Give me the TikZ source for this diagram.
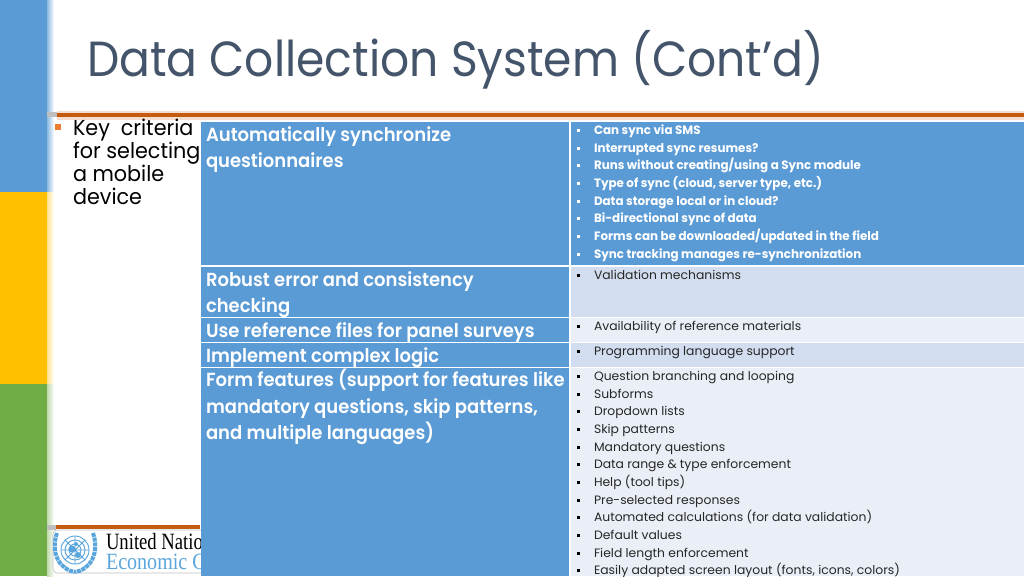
\documentclass[tikz,border=0pt]{standalone}
\usepackage{fontspec}
\setmainfont{Poppins}
\newfontfamily\titlef[FakeStretch=0.925]{Poppins}
\newfontfamily\leadf[FakeStretch=0.96]{Poppins}
\newfontfamily\headf[FakeStretch=0.95,BoldFont={Poppins SemiBold}]{Poppins}
\newfontfamily\smwf[FakeStretch=0.98]{Poppins}
\newfontfamily\smbf[FakeStretch=1.02]{Poppins}
\newfontfamily\serifl[FakeStretch=0.8]{Liberation Serif}
\newfontfamily\seriflb[FakeStretch=0.86]{Liberation Serif}
\definecolor{barblue}{HTML}{5B9BD5}
\definecolor{baryellow}{HTML}{FFC000}
\definecolor{bargreen}{HTML}{70AD47}
\definecolor{titlecol}{HTML}{44546A}
\definecolor{rulecol}{HTML}{C55A11}
\definecolor{bulcol}{HTML}{ED7D31}
\definecolor{rowdark}{HTML}{D2DEEF}
\definecolor{rowlight}{HTML}{EAEFF7}
\definecolor{unblue}{HTML}{5AA6DC}
\tikzset{
  x=0.75pt,y=-0.75pt,
  txt/.style={anchor=base west,inner sep=0pt,outer sep=0pt},
  head/.style={txt,text=white,font=\headf\fontsize{14.2}{16}\selectfont\bfseries},
  smw/.style={txt,text=white,font=\smwf\fontsize{9.1}{11}\selectfont\bfseries},
  smb/.style={txt,text=black!85,font=\smbf\fontsize{9.1}{11}\selectfont},
  lead/.style={txt,text=black,font=\leadf\fontsize{16.2}{18}\selectfont},
  cell/.style={anchor=north west,inner sep=0pt,outer sep=0pt,draw=none},
}
\newcommand{\cellbox}[6]{\node[cell,fill=#6,minimum width=#4*0.75pt,minimum height=#5*0.75pt] (#1) at (#2,#3) {};}
\newcommand{\bulw}[2]{\fill[white] (576.5,#1-5.5) rectangle +(3.2,3.2); \node[smw] (w#2) at (594,#1)}
\newcommand{\bulb}[2]{\fill[black] (576.5,#1-5.5) rectangle +(3.2,3.2); \node[smb] (b#2) at (594,#1)}
\begin{document}
\begin{tikzpicture}
\useasboundingbox (0,0) rectangle (1024,576);
\fill[white] (0,0) rectangle (1024,576);
% side bars
\fill[barblue] (0,0) rectangle (47,192);
\fill[baryellow] (0,192) rectangle (47,384);
\fill[bargreen] (0,384) rectangle (47,576);
\shade[left color=barblue!70,right color=white] (47,0) rectangle (54,192);
\shade[left color=baryellow!45,right color=white] (47,192) rectangle (54,384);
\shade[left color=bargreen!45,right color=white] (47,384) rectangle (54,576);
% title and rules
\node[txt,text=titlecol,font=\titlef\fontsize{37}{40}\selectfont] (title) at (87,76) {Data Collection System (Cont’d)};
\fill[black!25] (47,112) rectangle (57,117);
\fill[rulecol!20] (57,111) rectangle (1024,120);
\fill[rulecol] (57,113) rectangle (1024,116.5);
\fill[black!25] (47,525) rectangle (56,530);
\fill[rulecol] (56,525) rectangle (200,529);
% logo
\fill[white,draw=black!25,rounded corners=3pt] (53,530) rectangle (210,573);
\begin{scope}[unblue,line width=0.7pt]
\draw (75,550) circle (14);
\draw (75,550) circle (10);
\draw (75,550) circle (6);
\draw (61,550) -- (89,550) (75,536) -- (75,564) (65,540) -- (85,560) (85,540) -- (65,560);
\fill (72,549) circle (3.5);
\fill (78,555) circle (3);
\fill (76,544) circle (2);
\draw[line width=3pt,dash pattern=on 3pt off 0.6pt] (57,533) .. controls (50,553) and (60,570) .. (75,572);
\draw[line width=3pt,dash pattern=on 3pt off 0.6pt] (93,533) .. controls (100,553) and (90,570) .. (75,572);
\end{scope}
\node[txt,text=black,font=\serifl\fontsize{17.5}{19}\selectfont] (un1) at (106,549) {United Nations};
\node[txt,text=unblue,font=\seriflb\fontsize{17.5}{19}\selectfont] (un2) at (106,569) {Economic Commission};
% lead text
\fill[bulcol] (55,124) rectangle (61,130);
\node[lead] (k1) at (73,135) {Key\hspace{4pt} criteria};
\node[lead] (k2) at (73,158) {for selecting};
\node[lead] (k3) at (73,181) {a mobile};
\node[lead] (k4) at (73,204) {device};
% table cells
\cellbox{a1}{201}{122}{368}{143}{barblue}
\cellbox{a2}{201}{267}{368}{50}{barblue}
\cellbox{a3}{201}{318}{368}{24}{barblue}
\cellbox{a4}{201}{343}{368}{24}{barblue}
\cellbox{a5}{201}{368}{368}{208}{barblue}
\cellbox{c1}{571}{122}{453}{143}{barblue}
\cellbox{c2}{571}{267}{453}{50}{rowdark}
\cellbox{c3}{571}{318}{453}{24}{rowlight}
\cellbox{c4}{571}{343}{453}{24}{rowdark}
\cellbox{c5}{571}{368}{453}{208}{rowlight}
% left column
\node[head] (h1a) at (206,141) {Automatically synchronize};
\node[head] (h1b) at (206,167) {questionnaires};
\node[head] (h2a) at (206,286) {Robust error and consistency};
\node[head] (h2b) at (206,312) {checking};
\node[head] (h3) at (206,337) {Use reference files for panel surveys};
\node[head] (h4) at (206,362) {Implement complex logic};
\node[head] (h5a) at (206,386) {Form features (support for features like};
\node[head] (h5b) at (206,413) {mandatory questions, skip patterns,};
\node[head] (h5c) at (206,439) {and multiple languages)};
% right column
\bulw{134}{1} {Can sync via SMS};
\bulw{152}{2} {Interrupted sync resumes?};
\bulw{169}{3} {Runs without creating/using a Sync module};
\bulw{187}{4} {Type of sync (cloud, server type, etc.)};
\bulw{205}{5} {Data storage local or in cloud?};
\bulw{222}{6} {Bi-directional sync of data};
\bulw{240}{7} {Forms can be downloaded/updated in the field};
\bulw{258}{8} {Sync tracking manages re-synchronization};
\bulb{279}{1} {Validation mechanisms};
\bulb{330}{2} {Availability of reference materials};
\bulb{355}{3} {Programming language support};
\bulb{380}{4} {Question branching and looping};
\bulb{398}{5} {Subforms};
\bulb{415}{6} {Dropdown lists};
\bulb{433}{7} {Skip patterns};
\bulb{451}{8} {Mandatory questions};
\bulb{468}{9} {Data range \& type enforcement};
\bulb{486}{10} {Help (tool tips)};
\bulb{504}{11} {Pre-selected responses};
\bulb{521}{12} {Automated calculations (for data validation)};
\bulb{539}{13} {Default values};
\bulb{557}{14} {Field length enforcement};
\bulb{574}{15} {Easily adapted screen layout (fonts, icons, colors)};
\end{tikzpicture}
\end{document}
